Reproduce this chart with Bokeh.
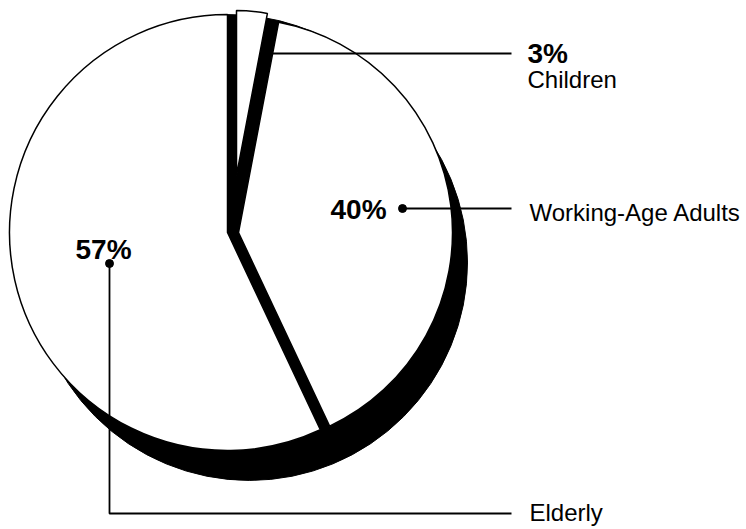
import numpy as np
from bokeh.plotting import figure
from bokeh.models import Range1d
from bokeh.core.properties import value
from bokeh.embed import file_html
from bokeh.resources import INLINE

# ---- data ----
groups = ["Elderly", "Working-Age Adults", "Children"]
shares = [57, 40, 3]
pct_labels = ["57%", "40%", "3%"]

# ---- layout (screen pixels of the 746x529 page) ----
W, H = 746, 529
def sx(X): return X
def sy(Y): return H - Y

# slice apexes / radii (exploded pie, hand drawn look)
centers = [(227, 232), (238, 232), (236, 175)]
radii = [218, 214, 165]
shadow_offset = (22, 30)
TEXT_SHIFT = 9  # compensates the text baseline placement

FONT = value("Liberation Sans")

p = figure(width=W, height=H, x_range=Range1d(0, W), y_range=Range1d(0, H),
           output_backend="svg", toolbar_location=None, min_border=0)
p.axis.visible = False
p.grid.visible = False
p.outline_line_color = None
p.background_fill_color = "white"
p.border_fill_color = "white"

# angles from shares, starting at 12 o'clock, going anticlockwise
starts, ends = [], []
a = 90.0
for s in shares:
    starts.append(np.radians(a))
    a += s * 3.6
    ends.append(np.radians(a))

# shadow (3-D thickness)
ex, ey = centers[0]
p.wedge(x=sx(ex + shadow_offset[0]), y=sy(ey + shadow_offset[1]), radius=radii[0],
        start_angle=0, end_angle=2 * np.pi, fill_color="black", line_color="black")
# black fill behind the exploded gaps
p.wedge(x=sx(ex), y=sy(ey), radius=radii[0], start_angle=ends[0] - 0.02,
        end_angle=np.radians(91), fill_color="black", line_color="black")

# white slices
for i in range(len(shares)):
    cx, cy = centers[i]
    p.wedge(x=sx(cx), y=sy(cy), radius=radii[i], start_angle=starts[i], end_angle=ends[i],
            fill_color="white", line_color="black", line_width=1.5)

# leader lines
# Children
p.line(x=[sx(263), sx(511)], y=[sy(53), sy(53)], line_color="black", line_width=1.8)
p.scatter(x=[sx(263)], y=[sy(54)], size=6, fill_color="black", line_color="black")
# Working-age
p.line(x=[sx(402), sx(511)], y=[sy(208), sy(208)], line_color="black", line_width=1.8)
p.scatter(x=[sx(402)], y=[sy(208)], size=8, fill_color="black", line_color="black")
# Elderly
p.line(x=[sx(109), sx(109), sx(511)], y=[sy(263), sy(513), sy(513)],
       line_color="black", line_width=1.8)
p.scatter(x=[sx(109)], y=[sy(263)], size=8, fill_color="black", line_color="black")

# percentage labels (bold)
pct_pos = [(75, 258), (330, 218), (527, 62)]
for (X, Y), t in zip(pct_pos, pct_labels):
    p.text(x=[sx(X)], y=[sy(Y - TEXT_SHIFT)], text=[t], text_font=FONT, text_font_size="28px",
           text_font_style="bold", text_baseline="alphabetic", text_align="left",
           text_color="black")

# group name labels
name_pos = [(529, 521), (529, 221), (527, 88)]
for (X, Y), t in zip(name_pos, groups):
    p.text(x=[sx(X)], y=[sy(Y - TEXT_SHIFT)], text=[t], text_font=FONT, text_font_size="24px",
           text_baseline="alphabetic", text_align="left", text_color="black")

open("out.html", "w").write(file_html(p, INLINE))
